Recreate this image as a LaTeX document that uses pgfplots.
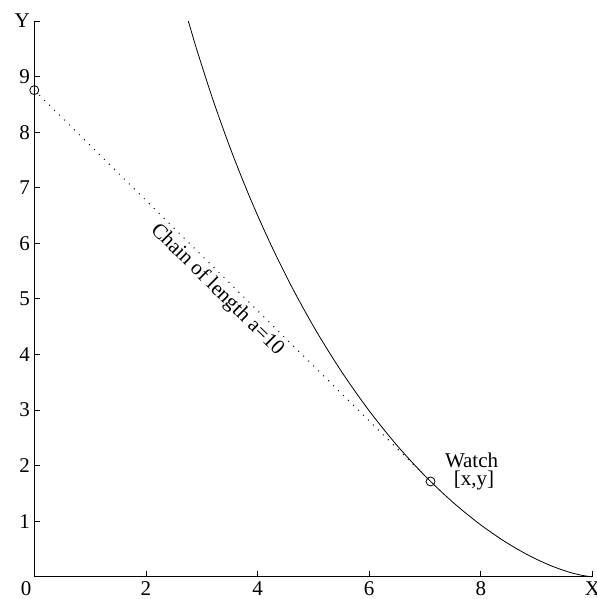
\documentclass[border=0pt]{standalone}
\usepackage{fontspec}
\setmainfont{Liberation Serif}
\usepackage{pgfplots}
\pgfplotsset{compat=1.18}
\begin{document}
\begin{tikzpicture}
\begin{axis}[
  width=558pt, height=555.6pt, scale only axis,
  xmin=0, xmax=10, ymin=0, ymax=10,
  axis lines*=left,
  axis line style={line width=0.8pt},
  tick align=inside,
  major tick length=6pt,
  tick style={line width=0.8pt, black},
  xtick={0,2,4,6,8,10},
  xticklabels={\llap{0\hspace{3pt}},2,4,6,8,X},
  ytick={0,1,2,3,4,5,6,7,8,9,10},
  yticklabels={,1,2,3,4,5,6,7,8,9,Y},
  ticklabel style={font=\fontsize{21}{24}\selectfont},
  xticklabel style={inner sep=0pt, anchor=north, yshift=-5pt},
  yticklabel style={inner sep=0pt, anchor=east, xshift=-4.3pt},
  clip=false,
]
\addplot[black, line width=0.8pt, smooth] coordinates {
(10.0000,0.0000) (9.9875,0.0004) (9.9502,0.0033) (9.8033,0.0263) (9.5663,0.0869)
(9.2501,0.2005) (8.8682,0.3788) (8.4355,0.6295) (7.9671,0.9563) (7.4770,1.3596)
(6.9779,1.8370) (6.4805,2.3841) (5.9933,2.9950) (5.5229,3.6635) (5.0738,4.3828)
(4.6492,5.1465) (4.2510,5.9485) (3.8798,6.7833) (3.5357,7.6459) (3.2180,8.5319)
(2.9259,9.4376) (2.7597,9.9984)
};
\addplot[black, line width=1pt, dash pattern=on 1pt off 6pt] coordinates {
(0,8.7556) (7.1,1.7136)
};
\addplot[black, only marks, mark=o, mark size=4.5pt, mark options={line width=0.8pt}] coordinates {
(0,8.7556) (7.1,1.7136)
};
\node[rotate=-44.6, font=\fontsize{21}{24}\selectfont, inner sep=0pt] at (axis cs:3.274,5.16) {Chain of length a=10};
\node[font=\fontsize{21}{24}\selectfont, inner sep=0pt] at (axis cs:7.835,2.10) {Watch};
\node[font=\fontsize{21}{24}\selectfont, inner sep=0pt] at (axis cs:7.88,1.74) {[x,y]};
\coordinate (O) at (axis cs:0,0);
\coordinate (T) at (axis cs:10,10);
\end{axis}
\pgfresetboundingbox
\path[use as bounding box] ([shift={(-34.3pt,-22.3pt)}]O) rectangle ([shift={(3.7pt,21pt)}]T);
\end{tikzpicture}
\end{document}
